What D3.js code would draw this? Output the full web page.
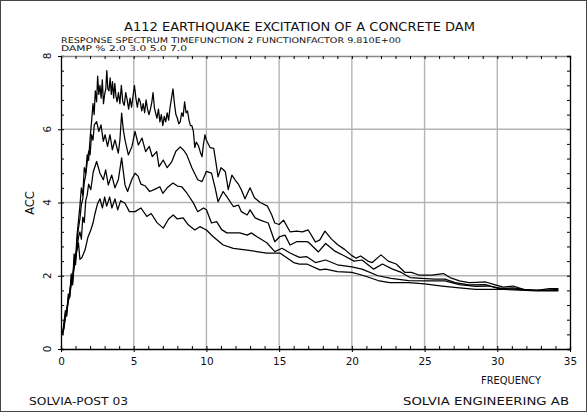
<!DOCTYPE html>
<html>
<head>
<meta charset="utf-8">
<script src="https://cdn.jsdelivr.net/npm/d3@7"></script>
<style>
  html, body { margin: 0; padding: 0; background: #fff; }
  svg { display: block; }
  text { font-family: "DejaVu Sans", "Liberation Sans", sans-serif; fill: #111; }
</style>
</head>
<body>
<svg id="chart" width="587" height="412"></svg>
<script>
// Response spectra, damping 2 %, 3 %, 5 % and 7 %
const freq2 = [0.1,0.2,0.3,0.4,0.5,0.6,0.7,0.8,0.9,1.0,1.1,1.2,1.3,1.4,1.5,1.6,1.7,1.8,1.9,2.0,2.1,2.2,2.28,2.36,2.45,2.52,2.6,2.68,2.76,2.84,2.92,3.0,3.08,3.15,3.22,3.3,3.38,3.46,3.54,3.62,3.7,3.78,3.86,3.95,4.05,4.15,4.25,4.35,4.45,4.55,4.65,4.75,4.85,4.95,5.05,5.15,5.25,5.35,5.45,5.55,5.65,5.75,5.85,5.95,6.05,6.15,6.25,6.33,6.42,6.5,6.6,6.7,6.8,6.9,7.0,7.1,7.2,7.3,7.4,7.5,7.6,7.7,7.8,7.9,8.0,8.1,8.2,8.3,8.4,8.5,8.6,8.7,8.8,8.9,9.0,9.1,9.2,9.3,9.45,9.6,9.7,9.8,9.9,10.0,10.25,10.5,10.65,10.8,11.0,11.15,11.3,11.5,11.75,12.0,12.2,12.4,12.65,13.0,13.3,13.7,14.2,14.5,14.7,15.0,15.3,15.75,16.2,16.6,17.0,17.5,17.8,18.15,18.6,19.05,19.5,20.0,20.3,20.6,21.1,21.4,22.0,22.5,23.05,23.65,24.1,24.6,25.0,25.5,26.3,26.75,27.4,28.05,28.6,29.2,29.8,30.4,31.1,31.8,32.7,33.6,34.2];
const acc2 = [0.40,0.70,1.05,0.90,1.50,1.40,2.05,1.75,2.60,2.40,3.10,3.50,3.90,4.40,4.20,4.95,4.80,5.30,5.15,5.75,6.20,6.70,6.40,7.05,6.75,7.45,6.95,7.20,6.85,7.35,6.70,6.95,7.10,7.60,7.10,7.05,7.40,6.95,7.30,6.85,7.25,6.90,6.75,7.00,6.70,7.20,6.75,6.65,7.00,6.80,6.55,6.85,6.60,6.90,7.20,6.85,6.60,6.85,6.75,6.50,6.70,6.45,6.80,6.55,6.40,6.55,6.75,7.00,6.60,6.45,6.30,6.55,6.20,6.40,6.10,6.35,6.20,6.45,6.25,6.60,6.85,7.10,6.70,6.40,6.30,6.15,6.20,6.45,6.35,6.75,6.45,6.50,6.25,6.10,6.10,5.95,5.50,5.65,5.55,5.35,5.25,5.60,5.85,5.70,5.50,5.48,5.10,4.70,4.95,4.90,4.84,4.35,4.75,4.60,4.50,4.35,4.10,4.40,4.13,4.00,3.90,3.65,3.44,3.40,3.52,3.20,3.22,3.20,3.25,2.92,2.98,3.22,3.00,2.84,2.72,2.55,2.48,2.54,2.40,2.36,2.57,2.40,2.32,2.09,2.09,2.02,2.02,2.02,2.06,1.95,1.86,1.81,1.82,1.83,1.76,1.69,1.72,1.63,1.60,1.65,1.65];

const freq3 = [0.1,0.2,0.3,0.4,0.5,0.6,0.7,0.8,0.9,1.0,1.1,1.2,1.3,1.4,1.5,1.6,1.7,1.8,1.9,2.0,2.1,2.2,2.29,2.45,2.6,2.75,2.91,3.03,3.2,3.37,3.53,3.71,3.94,4.05,4.17,4.28,4.4,4.63,4.88,5.09,5.32,5.57,5.82,6.07,6.28,6.58,6.74,7.03,7.3,7.6,7.9,8.2,8.45,8.65,9.0,9.4,9.7,10.0,10.35,10.6,10.8,11.15,11.4,11.85,12.2,12.4,12.8,13.0,13.35,13.7,14.25,14.7,15.05,15.4,15.75,16.2,16.9,17.0,17.7,18.2,18.8,19.5,20.15,20.7,21.5,22.1,22.8,23.4,24.0,24.8,25.7,26.4,27.1,28.05,29.2,30.1,31.1,32.25,33.2,34.2];
const acc3 = [0.40,0.65,0.95,1.05,1.40,1.55,1.90,1.80,2.45,2.30,2.95,3.30,3.55,3.95,4.10,4.55,4.75,5.10,5.40,5.30,5.85,5.70,6.12,6.21,5.94,6.12,5.67,5.85,5.53,5.85,5.44,5.71,5.35,5.70,6.44,6.00,5.71,5.30,5.53,5.94,5.57,5.76,5.39,5.53,5.25,5.39,4.98,5.16,4.95,5.10,5.40,5.52,5.42,5.30,4.95,4.62,4.57,4.85,4.80,4.40,4.02,4.30,4.16,3.89,3.93,3.75,3.66,3.80,3.58,3.52,3.44,2.93,3.07,3.11,2.84,2.93,2.93,2.92,2.65,2.88,2.68,2.54,2.40,2.43,2.18,2.32,2.18,2.09,1.95,1.93,1.91,1.91,1.81,1.75,1.76,1.65,1.67,1.60,1.60,1.63];

const freq5 = [0.1,0.2,0.3,0.4,0.5,0.6,0.7,0.8,0.9,1.0,1.1,1.2,1.3,1.4,1.5,1.6,1.7,1.8,1.9,2.05,2.22,2.45,2.68,2.91,3.07,3.25,3.49,3.71,3.94,4.17,4.4,4.58,4.86,5.09,5.3,5.5,5.8,6.1,6.4,6.8,7.0,7.3,7.7,8.0,8.3,8.65,9.1,9.4,9.8,10.0,10.35,10.7,11.05,11.4,11.85,12.3,12.8,13.1,13.45,14.15,14.7,15.2,15.75,16.4,16.9,17.5,18.2,19.0,20.0,20.7,21.8,22.7,23.9,25.2,26.4,27.4,28.5,29.4,30.4,31.5,32.7,34.2];
const acc5 = [0.40,0.60,0.90,1.10,1.35,1.50,1.85,1.95,2.30,2.55,2.75,3.05,3.20,3.00,3.60,3.45,4.05,4.20,4.50,4.35,4.84,5.12,4.80,4.62,4.89,4.48,4.75,4.40,4.62,5.22,4.48,4.30,4.62,4.80,4.72,4.50,4.45,4.30,4.35,4.43,4.25,4.40,4.53,4.45,4.43,4.26,3.99,3.75,3.85,3.80,3.44,3.48,3.26,3.17,3.17,3.17,3.11,3.17,3.07,2.90,2.66,2.75,2.62,2.50,2.52,2.36,2.43,2.30,2.24,2.18,2.00,1.93,1.87,1.86,1.86,1.76,1.71,1.72,1.65,1.63,1.60,1.60];

const freq7 = [0.1,0.2,0.3,0.4,0.5,0.6,0.7,0.8,0.9,1.05,1.2,1.3,1.43,1.65,1.85,2.05,2.2,2.34,2.5,2.68,2.85,3.0,3.14,3.35,3.5,3.71,3.9,4.1,4.4,4.7,5.09,5.5,5.9,6.2,6.6,7.03,7.4,7.72,8.0,8.4,8.75,9.2,9.55,10.0,10.45,11.15,11.85,12.8,13.45,14.15,15.05,15.5,16.0,16.4,16.9,17.8,18.2,19.0,20.0,20.85,21.8,22.6,23.9,25.0,26.2,27.4,28.5,30.4,32.7,34.2];
const acc7 = [0.40,0.55,0.85,1.00,1.30,1.45,1.75,1.90,2.20,2.60,2.90,2.45,2.49,2.70,3.05,3.25,3.44,3.70,3.95,4.10,3.85,4.15,3.90,4.15,3.85,4.10,3.80,4.05,3.98,3.75,3.75,3.85,3.62,3.70,3.45,3.30,3.55,3.66,3.55,3.58,3.39,3.25,3.34,3.25,3.07,2.84,2.75,2.70,2.66,2.62,2.62,2.50,2.36,2.32,2.32,2.16,2.18,2.11,2.09,2.00,1.87,1.81,1.81,1.78,1.72,1.67,1.63,1.63,1.59,1.59];

const xTicks = [0,5,10,15,20,25,30,35];
const yTicks = [0,2,4,6,8];

const title = "A112 EARTHQUAKE EXCITATION OF A CONCRETE DAM";
const subtitle1 = "RESPONSE SPECTRUM TIMEFUNCTION 2 FUNCTIONFACTOR 9.810E+00";
const subtitle2 = "DAMP % 2.0 3.0 5.0 7.0";
const xTitle = "FREQUENCY";
const yTitle = "ACC";
const footLeft = "SOLVIA-POST 03";
const footRight = "SOLVIA ENGINEERING AB";

const svg = d3.select("#chart");
const W = 587, H = 412;
const plotL = 61, plotR = 570, plotT = 56, plotB = 349;

const x = d3.scaleLinear().domain([0, 35]).range([plotL, plotR]);
const y = d3.scaleLinear().domain([0, 8]).range([plotB, plotT]);

// page frame
svg.append("rect").attr("x", 0.5).attr("y", 0.5).attr("width", W - 1).attr("height", H - 1)
  .attr("fill", "none").attr("stroke", "#444").attr("stroke-width", 1);

// grid
const grid = svg.append("g").attr("stroke", "#b4b4b4").attr("stroke-width", 1.4);
xTicks.filter(v => v > 0 && v < 35).forEach(v => {
  grid.append("line").attr("x1", x(v)).attr("x2", x(v)).attr("y1", y(0)).attr("y2", y(8));
});
yTicks.filter(v => v > 0 && v < 8).forEach(v => {
  grid.append("line").attr("x1", x(0)).attr("x2", x(35)).attr("y1", y(v)).attr("y2", y(v));
});

// frame axes with inner minor ticks
const minorX = d3.range(0, 36, 1);
const minorY = d3.range(0, 8.001, 0.4);

svg.append("g").attr("transform", `translate(0,${plotB})`)
  .call(d3.axisTop(x).tickValues(minorX).tickSize(3).tickFormat(""))
  .call(g => g.selectAll("line").attr("stroke", "#000"))
  .call(g => g.select(".domain").attr("stroke", "#000").attr("stroke-width", 1.3));

svg.append("g").attr("transform", `translate(${plotL},0)`)
  .call(d3.axisRight(y).tickValues(minorY).tickSize(3).tickFormat(""))
  .call(g => g.selectAll("line").attr("stroke", "#000"))
  .call(g => g.select(".domain").attr("stroke", "#000").attr("stroke-width", 1.3));

svg.append("g").attr("transform", `translate(0,${plotT})`)
  .call(d3.axisBottom(x).tickValues(minorX).tickSize(3).tickFormat(""))
  .call(g => g.selectAll("line").attr("stroke", "#000"))
  .call(g => g.select(".domain").attr("stroke", "#888").attr("stroke-width", 1.3));

svg.append("g").attr("transform", `translate(${plotR},0)`)
  .call(d3.axisLeft(y).tickValues(minorY).tickSize(3).tickFormat(""))
  .call(g => g.selectAll("line").attr("stroke", "#000"))
  .call(g => g.select(".domain").attr("stroke", "#000").attr("stroke-width", 1.3));

// outer major ticks with labels
svg.append("g").attr("transform", `translate(0,${plotB})`)
  .call(d3.axisBottom(x).tickValues(xTicks).tickSize(3).tickPadding(6))
  .call(g => g.select(".domain").remove())
  .call(g => g.selectAll("line").attr("stroke", "#000"))
  .call(g => g.selectAll("text").attr("font-size", 10.5).attr("fill", "#111")
    .attr("font-family", "DejaVu Sans, sans-serif"));

svg.append("g").attr("transform", `translate(${plotL},0)`)
  .call(d3.axisLeft(y).tickValues(yTicks).tickSize(3).tickFormat(""))
  .call(g => g.select(".domain").remove())
  .call(g => g.selectAll("line").attr("stroke", "#000"));

yTicks.forEach(v => {
  svg.append("text")
    .attr("transform", `translate(51,${y(v)}) rotate(-90)`)
    .attr("text-anchor", "middle")
    .attr("font-size", 10.5)
    .text(v);
});

// spectra
const line = d3.line().x(d => x(d[0])).y(d => y(d[1]));
const series = [
  [freq2, acc2],
  [freq3, acc3],
  [freq5, acc5],
  [freq7, acc7]
];
series.forEach(([f, a]) => {
  svg.append("path")
    .datum(f.map((v, i) => [v, a[i]]))
    .attr("d", line)
    .attr("fill", "none")
    .attr("stroke", "#000")
    .attr("stroke-width", 1.25)
    .attr("stroke-linejoin", "round");
});

// texts
function label(txt, xPos, yPos, size, len, anchor) {
  const t = svg.append("text").attr("x", xPos).attr("y", yPos)
    .attr("font-size", size).attr("text-anchor", anchor || "start").text(txt);
  if (len) t.attr("textLength", len).attr("lengthAdjust", "spacingAndGlyphs");
  return t;
}
label(title, 124, 31, 12.5, 351);
label(subtitle1, 61, 43, 7.8, 340);
label(subtitle2, 61, 50.5, 7.8, 126);
label(xTitle, 481, 384, 11, 60);
label(footLeft, 29, 405, 11, 99);
label(footRight, 403, 405, 11, 166);

svg.append("text")
  .attr("transform", `translate(34,203) rotate(-90)`)
  .attr("text-anchor", "middle")
  .attr("font-size", 11.5)
  .text(yTitle);
</script>
</body>
</html>
